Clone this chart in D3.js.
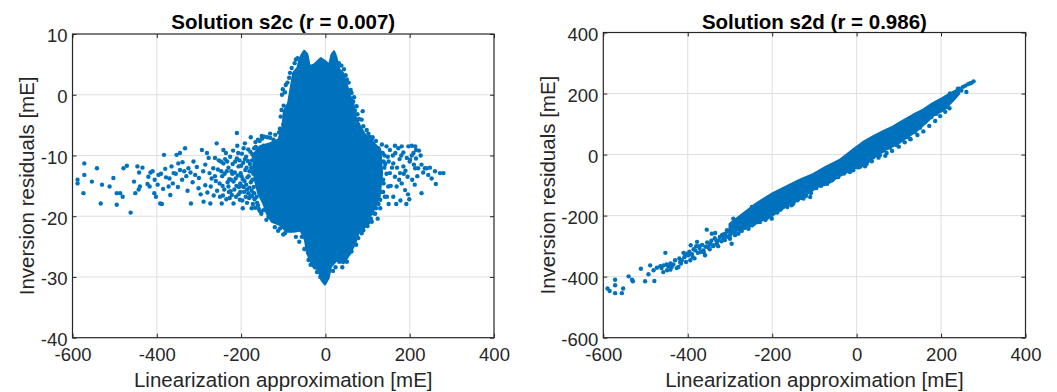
<!DOCTYPE html>
<html>
<head>
<meta charset="utf-8">
<script src="https://cdn.jsdelivr.net/npm/d3@7"></script>
<style>
  body { margin: 0; background: #fff; }
  svg { display: block; font-family: "Liberation Sans", Arial, sans-serif; }
</style>
</head>
<body>
<svg id="chart" width="1057" height="392"></svg>
<script>
const xTicks = [-600, -400, -200, 0, 200, 400];
const yTicksC = [-40, -30, -20, -10, 0, 10];
const yTicksD = [-600, -400, -200, 0, 200, 400];
const titles = ["Solution s2c (r = 0.007)", "Solution s2d (r = 0.986)"];
const xLabel = "Linearization approximation [mE]";
const yLabel = "Inversion residuals [mE]";

// s2c: outline of the saturated core (points overlap into a solid blob)
const coreC = [[-56,6.6],[-50,7.2],[-43,6.6],[-38,4.7],[-27,4.9],[-11,6.0],[-1,5.5],[9.5,4.9],[15,6.6],[20.5,7.1],
  [25,6.3],[33,4.1],[41,3.6],[50.6,1.6],[57,0],[65,-1.1],[71,-3.6],[82,-5.2],[94,-6.6],[106,-7.4],[118,-8.2],
  [130,-9.1],[134,-12.9],[128,-16.8],[118,-18.4],[106,-20],[94,-21.7],[78,-22.8],[70,-24.5],[58.5,-26.1],
  [43,-27.7],[27,-27.2],[12.6,-28.3],[7,-30.2],[-1,-31.2],[-9,-30.5],[-16.6,-28.8],[-28.5,-28.3],[-43,-26.1],
  [-48,-23.9],[-58.5,-22.3],[-76,-22.5],[-92,-22.5],[-107.5,-21.4],[-127,-20.9],[-139,-19.5],[-147,-17.9],
  [-159,-16.2],[-167,-14],[-171,-11.8],[-167,-9.6],[-155,-8.5],[-131,-8],[-111,-7.4],[-101,-5.2],[-98,-2.7],
  [-88,-1.4],[-80,1.9],[-76,3.6],[-66,4.4],[-61,5.8]];

// s2c: individually visible points
const pointsC = [
  [-588,-14.6],[-588,-14.0],[-572,-11.3],[-572,-13.2],[-574,-16.2],[-554,-14.3],[-542,-12.1],[-533,-17.9],
  [-530,-14.8],[-512,-15.1],[-503,-13.7],[-495,-18.1],[-495,-16.2],[-487,-16.2],[-481,-16.8],[-479,-12.1],
  [-471,-11.7],[-462,-19.4],[-451,-16.2],[-454,-14.3],[-446,-11.8],[-442,-12.8],[-434,-12.0],[-440,-15.1],
  [-443,-15.6],[-422,-14.7],[-417,-15.1],[-410,-12.6],[-406,-16.2],[-402,-16.8],[-396,-13.2],[-392,-17.9],
  [-388,-18.0],[-383,-9.9],[-378,-13.6],[-372,-15.1],[-368,-16.5],[-360,-12.9],[-353,-9.9],[-349,-11.3],
  [-345,-9.6],[-339,-11.1],[-333,-8.8],[-335,-12.6],[-325,-12.1],[-319,-17.9],[-313,-11.0],[-309,-13.2],
  [-301,-15.4],[-293,-9.1],[-289,-17.6],[-285,-11.5],[-281,-9.6],[-277,-10.4],[-273,-17.9],[-272,-15.1],
  [-266,-12.1],[-262,-10.4],[-258,-8.0],[-251,-14.6],[-246,-17.9],[-242,-11.3],[-242,-9.1],[-234,-12.6],
  [-230,-15.1],[-226,-10.2],[-222,-16.5],[-218,-17.9],[-210,-6.3],[-206,-11.8],[-202,-14.6],[-196,-18.7],
  [-194,-8.8],[-188,-10.2],[-183,-16.2],[-177,-7.0],[-175,-18.7],[-163,-16.8],[-151,-6.8],[-147,-8.4],
  [-131,-6.4],[-123,-7.4],[-115,-9.6],
  [-420,-13.5],[-415,-12.8],[-405,-14.0],[-398,-14.8],[-390,-13.0],[-385,-15.5],[-380,-12.2],[-370,-13.8],
  [-365,-11.8],[-362,-14.6],[-355,-13.0],[-350,-15.2],[-345,-12.4],[-340,-14.0],[-330,-13.4],[-327,-15.8],
  [-320,-12.8],[-315,-14.4],[-305,-11.9],[-300,-13.7],[-296,-16.4],[-290,-12.6],[-285,-14.9],[-280,-16.1],
  [-275,-12.9],[-270,-13.8],[-265,-16.6],[-260,-14.2],[-255,-12.3],[-250,-16.8],[-245,-13.4],[-240,-15.6],
  [-238,-10.6],[-235,-17.2],[-230,-12.0],[-228,-13.9],[-225,-15.9],[-220,-11.4],[-218,-14.3],[-215,-12.8],
  [-212,-16.8],[-210,-10.5],[-208,-13.3],[-205,-15.2],[-203,-17.3],[-200,-11.7],[-198,-9.7],[-196,-13.9],
  [-193,-16.0],[-190,-12.4],[-188,-14.8],[-186,-17.8],[-184,-10.9],[-182,-13.4],[-180,-15.3],[-178,-9.4],
  [-176,-12.0],[-174,-16.7],[-172,-18.0],[-170,-10.2],[-168,-17.2],[-165,-8.6],[-160,-18.2],[-156,-7.6],
  [-248,-11.0],[-244,-15.0],[-236,-9.6],[-232,-14.4],[-227,-17.0],[-223,-12.6],[-219,-9.2],[-216,-15.6],
  [-213,-13.8],[-209,-8.4],[-206,-16.4],[-204,-10.8],[-201,-12.9],[-199,-15.0],[-197,-17.4],[-195,-11.2],
  [-192,-14.2],[-191,-8.0],[-189,-16.8],[-187,-12.0],[-185,-13.6],[-183,-9.0],[-181,-17.0],[-179,-11.4],
  [-177,-14.4],[-175,-15.8],[-173,-9.8],[-171,-13.0],[-169,-16.2],[-167,-18.6],[-166,-7.8],[-164,-11.0],
  [-162,-17.8],[-160,-7.4],[-158,-18.8],[-155,-19.2],[-152,-19.6],[-150,-7.2],[-145,-6.9],[-140,-20.6],
  [-138,-7.0],[-120,-21.8],[-112,-22.4],[-100,-23.0],[-96,-22.8],[-175,-12.6],[-174,-10.8],[-170,-15.2],
  [-262,-13.4],[-257,-15.8],[-253,-10.8],[-247,-12.6],[-243,-16.6],[-239,-13.0],[-233,-11.0],[-229,-16.0],
  [-224,-14.0],[-221,-13.0],[-214,-11.0],[-211,-15.0],[-207,-9.6],[-202,-16.0],[-199,-13.4],[-194,-15.2],
  [-191,-10.6],[-186,-15.6],[-180,-12.6],[-178,-16.6],[-173,-14.0],[-169,-8.8],
  [-101,0.9],[-103,0],[-84,-1.4],[-104,-2.5],[-100,-4.9],[-119,-6.6],[-131,-7.1],[-92,-3.6],[-76,0.8],[-72,2.5],
  [-99,-1.8],[-96,0.4],[-94,1.6],[-90,2.0],[-86,2.8],[-84,3.6],[-80,4.4],[-73,5.2],[-70,5.8],[-66,6.0],
  [-106,-3.6],[-108,-5.6],[-110,-6.2],
  [66,-1.1],[74,-1.9],[88.5,-2.7],[86,-4.1],[82,-5.8],[94,-6.9],[104,-6.9],[110,-7.4],[62,0.3],[51,2.5],[35,3.8],
  [32,5.2],[38,4.8],[44,4.2],[48,3.2],[55,2.0],[60,0.8],[68,-0.4],[70,-2.6],[76,-3.2],[80,-4.0],[90,-5.2],
  [98,-5.8],[102,-6.4],[112,-7.0],[120,-7.6],
  [-70,-23.4],[-62,-24.2],[-50,-25.4],[-40,-27.2],[-35,-28.0],[-20,-29.2],[-12,-30.0],[18,-29.0],[24,-28.4],
  [40,-28.4],[62,-25.8],[78,-23.6],[86,-22.8],[100,-21.6],[108,-20.4],[118,-19.6],[126,-18.0],[134,-16.0],
  [137,-14.0],[138,-11.0],[136,-9.6],
  [115,-8.4],[126,-8.8],[134,-8.2],[145,-8.5],[153,-9.1],[165,-8.4],[173,-8.8],[181,-8.5],[197,-8.5],[205,-8.4],
  [213,-8.5],[215,-9.1],[209,-9.6],[201,-10.7],[193,-10.4],[185,-11.8],[177,-12.9],[161,-11.3],[153,-12.9],
  [149,-15.1],[138,-14.6],[141,-16.8],[161,-16.8],[169,-15.1],[181,-14.6],[189,-15.7],[199,-17.2],[213,-12.1],
  [220,-12.1],[228,-11.5],[236,-12.1],[240,-12.1],[244,-13.2],[260,-12.6],[272,-12.9],[280,-12.9],[262,-14.7],
  [228,-16.2],[130,-17.3],[120,-18.7],[130,-18.7],[114,-19.5],[110,-20.9],[102,-21.0],[90,-22.3],[82,-20.9],
  [94,-20.1],[140,-10],[150,-11],[160,-10],[170,-12],[180,-10],[190,-12.5],[200,-11],[175,-14],[165,-13.5],
  [155,-15],[145,-13],[185,-9.5],[195,-13.5],[205,-10],[210,-11.5],[215,-10.5],[140,-12],[137,-16],
  [222,-9.2],[226,-10.0],[218,-13.4],[232,-12.8],[206,-14.0],[196,-16.4],[186,-13.0],[176,-10.6],[166,-9.6],
  [158,-12.0],[148,-10.2],[142,-11.4],[178,-17.4],[168,-18.0],[150,-18.0],[146,-16.8],[124,-20.4],[252,-13.8],
  [248,-12.0],[192,-18.0],[212,-14.8],
  [-56,-23.4],[-84,-22.3],[-92,-21.2],[55,-23.9],[66,-23.9],[73,-24.7],[51,-27.5],[-24.5,-28.4],[33,-27.5],
  [-123,-20.6],[-135,-20.1],[-107.5,-22.0],[-147,-19.0]];

// s2d: outline of the saturated band
const bandD = [[-300,-228],[-270,-196],[-236,-160],[-197,-127],[-165,-105],[-134,-84],[-102,-65],[-71,-40],
  [-39,-18],[-8,15],[16,40],[39,58],[63,75],[87,91],[110,110],[134,129],[158,146],[181,167],[205,185],[221,198],
  [240,212],
  [242,200],[225,174],[205,146],[181,129],[165,107],[142,79],[118,57],[95,35],[71,19],[47,-3],[24,-25],[0,-41],
  [-24,-57],[-47,-74],[-71,-96],[-95,-106],[-118,-128],[-142,-150],[-165,-167],[-189,-188],[-213,-210],
  [-229,-216],[-262,-240],[-300,-250]];

// s2d: individually visible points
const pointsD = [
  [-590,-439],[-585,-447],[-572,-410],[-572,-428],[-572,-454],[-553,-439],[-556,-454],[-540,-399],[-532,-410],
  [-530,-415],[-511,-374],[-501,-415],[-493,-392],[-489,-363],[-481,-379],[-479,-414],[-473,-371],[-465,-366],
  [-457,-363],[-453,-322],[-449,-379],[-441,-357],[-441,-377],[-438,-368],[-422,-368],[-418,-352],[-416,-357],
  [-410,-322],[-406,-330],[-402,-325],[-394,-346],[-393,-297],[-388,-336],[-382,-314],[-378,-286],[-374,-300],
  [-370,-319],[-363,-314],[-359,-330],[-355,-246],[-351,-303],[-347,-292],[-343,-259],[-339,-297],[-335,-257],
  [-331,-292],[-327,-281],[-319,-264],[-315,-275],[-311,-259],[-307,-248],[-303,-270],[-300,-264],[-296,-292],
  [-292,-210],[-292,-237],[-288,-254],[-284,-237],[-280,-259],[-276,-246],[-272,-226],[-268,-202],[-266,-237],
  [-260,-221],[-256,-243],[-252,-204],[-248,-172],[-248,-232],[-244,-215],[-240,-183],[-236,-210],[-232,-193],
  [-229,-221],[-225,-163],[-221,-204],[-217,-177],[-213,-193],[-209,-188],[-205,-182],[-201,-210],[-197,-188],
  [-193,-161],[-189,-172],[-181,-166],[-177,-155],[-173,-144],[-166,-133],[-162,-155],[-154,-166],[-150,-161],
  [-142,-128],[-134,-139],[-126,-144],[-114,-122],[-110,-139],[-102,-95],[-87,-84],[-79,-95],[-63,-68],
  [-55,-73],[-39,-51],[-24,-46],[-16,-57],[-8,-51],[8,-40],[16,-35],[24,-30],[32,-19],[39,-8],[55,-2],
  [63,14],[71,5],[79,23],[87,36],[95,31],[102,52],[110,58],[118,58],[130,80],[138,74],[150,96],[162,107],
  [169,118],[177,123],[189,134],[193,151],[205,167],[213,189],[221,200],[229,184],[233,191],[240,216],
  [244,216],[260,205],[264,231],[268,233],[272,235],[277,240],[213,156],[126,52],[150,88],
  [-462,-372],[-458,-385],[-450,-360],[-446,-366],[-434,-360],[-430,-346],[-426,-372],[-420,-340],[-414,-346],
  [-408,-336],[-404,-352],[-398,-330],[-396,-318],[-390,-326],[-386,-310],[-384,-340],[-380,-300],[-376,-322],
  [-372,-306],[-366,-296],[-362,-320],[-358,-302],[-354,-288],[-348,-310],[-344,-282],[-340,-300],[-336,-274],
  [-332,-282],[-328,-300],[-324,-270],[-320,-284],[-316,-262],[-312,-280],[-308,-268],[-304,-252],[-300,-276],
  [-296,-256],[-292,-246],[-288,-264],[-284,-228],[-280,-246],[-276,-232],[-272,-250],[-268,-222],[-264,-240],
  [-260,-212],[-256,-226],[-252,-218],[-248,-200],[-244,-228],[-240,-198],[-236,-222],[-232,-208],[-228,-186],
  [-224,-200],[-220,-188],[-216,-214],[-212,-172],[-208,-200],[-204,-170],[-200,-196],[-196,-176],[-192,-150],
  [-188,-190],[-184,-160],[-180,-180],[-176,-146],[-172,-168],[-168,-150],[-164,-172],[-160,-140],[-156,-158],
  [-152,-128],[-148,-152],[-144,-132],[-140,-150],[-136,-120],[-130,-142],[-124,-112],[-120,-136],[-116,-106],
  [-108,-126],[-104,-100],[-96,-110],[-90,-80],[-84,-102],[-76,-70],[-70,-96],[-64,-60],[-58,-84],[-50,-50],
  [-44,-74],[-36,-36],[-30,-62],[-20,-26],[-12,-52],[-4,-8],[4,-42],[12,12],[20,-38],[28,22],[36,-22],[44,34],
  [52,-10],[60,46],[68,-4],[76,60],[84,12],[92,70],[100,26],[108,86],[114,40],[122,96],[128,50],[136,108],
  [144,64],[152,122],[158,76],[166,134],[172,94],[180,148],[186,110],[194,160],[198,126],[206,172],[210,140],
  [216,178],[220,152],[226,196],[236,204],[248,210],[252,222],[258,226]];

const colour = "#0072BD";
const axisColour = "#262626";
const gridColour = "#dfdfdf";

const svg = d3.select("#chart");

const panels = [
  {left: 72.5, right: 494, top: 34, bottom: 337.7, yDomain: [-40, 10], yTicks: yTicksC,
   title: titles[0], core: coreC, points: pointsC, yLabelX: 34, coreStroke: 2.5},
  {left: 603.3, right: 1025.5, top: 32.5, bottom: 337.7, yDomain: [-600, 400], yTicks: yTicksD,
   title: titles[1], core: bandD, points: pointsD, yLabelX: 555, coreStroke: 3}
];

panels.forEach(p => {
  const x = d3.scaleLinear().domain([-600, 400]).range([p.left, p.right]);
  const y = d3.scaleLinear().domain(p.yDomain).range([p.bottom, p.top]);
  const g = svg.append("g");

  // grid
  g.append("g").selectAll("line").data(xTicks.slice(1, -1)).join("line")
    .attr("x1", d => x(d)).attr("x2", d => x(d))
    .attr("y1", p.top).attr("y2", p.bottom)
    .attr("stroke", gridColour).attr("stroke-width", 1);
  g.append("g").selectAll("line").data(p.yTicks.slice(1, -1)).join("line")
    .attr("y1", d => y(d)).attr("y2", d => y(d))
    .attr("x1", p.left).attr("x2", p.right)
    .attr("stroke", gridColour).attr("stroke-width", 1);

  // dense region
  g.append("path")
    .datum(p.core)
    .attr("d", d3.line().x(d => x(d[0])).y(d => y(d[1])).curve(d3.curveLinearClosed))
    .attr("fill", colour)
    .attr("stroke", colour)
    .attr("stroke-width", p.coreStroke)
    .attr("stroke-linejoin", "round");

  // points
  g.append("g").selectAll("circle").data(p.points).join("circle")
    .attr("cx", d => x(d[0])).attr("cy", d => y(d[1]))
    .attr("r", 2.2).attr("fill", colour);

  // axes
  const fmt = d => String(d);
  const styleAxis = sel => {
    sel.select(".domain").remove();
    sel.selectAll(".tick line").attr("stroke", axisColour);
    sel.selectAll("text").attr("fill", axisColour).style("font-size", "18.5px")
      .style("font-family", '"Liberation Sans", Arial, sans-serif');
  };
  g.append("g").attr("transform", `translate(0,${p.bottom})`)
    .call(d3.axisBottom(x).tickValues(xTicks).tickFormat(fmt).tickSizeInner(-4).tickSizeOuter(0).tickPadding(10))
    .call(styleAxis);
  g.append("g").attr("transform", `translate(0,${p.top})`)
    .call(d3.axisTop(x).tickValues(xTicks).tickFormat("").tickSizeInner(-4).tickSizeOuter(0))
    .call(styleAxis);
  g.append("g").attr("transform", `translate(${p.left},0)`)
    .call(d3.axisLeft(y).tickValues(p.yTicks).tickFormat(fmt).tickSizeInner(-4).tickSizeOuter(0).tickPadding(5))
    .call(styleAxis)
    .selectAll("text").attr("dy", "0.42em");
  g.append("g").attr("transform", `translate(${p.right},0)`)
    .call(d3.axisRight(y).tickValues(p.yTicks).tickFormat("").tickSizeInner(-4).tickSizeOuter(0))
    .call(styleAxis);

  g.append("rect")
    .attr("x", p.left).attr("y", p.top)
    .attr("width", p.right - p.left).attr("height", p.bottom - p.top)
    .attr("fill", "none").attr("stroke", axisColour).attr("stroke-width", 1.2);

  // labels
  const cx = (p.left + p.right) / 2;
  g.append("text").attr("x", cx).attr("y", 29)
    .attr("text-anchor", "middle").attr("font-weight", "bold")
    .style("font-size", "20.5px").attr("fill", "#000").text(p.title);
  g.append("text").attr("x", cx).attr("y", 387)
    .attr("text-anchor", "middle").style("font-size", "20.5px")
    .attr("fill", axisColour).text(xLabel);
  g.append("text")
    .attr("transform", `translate(${p.yLabelX},${(p.top + p.bottom) / 2}) rotate(-90)`)
    .attr("text-anchor", "middle").style("font-size", "20.5px")
    .attr("fill", axisColour).text(yLabel);
});
</script>
</body>
</html>
